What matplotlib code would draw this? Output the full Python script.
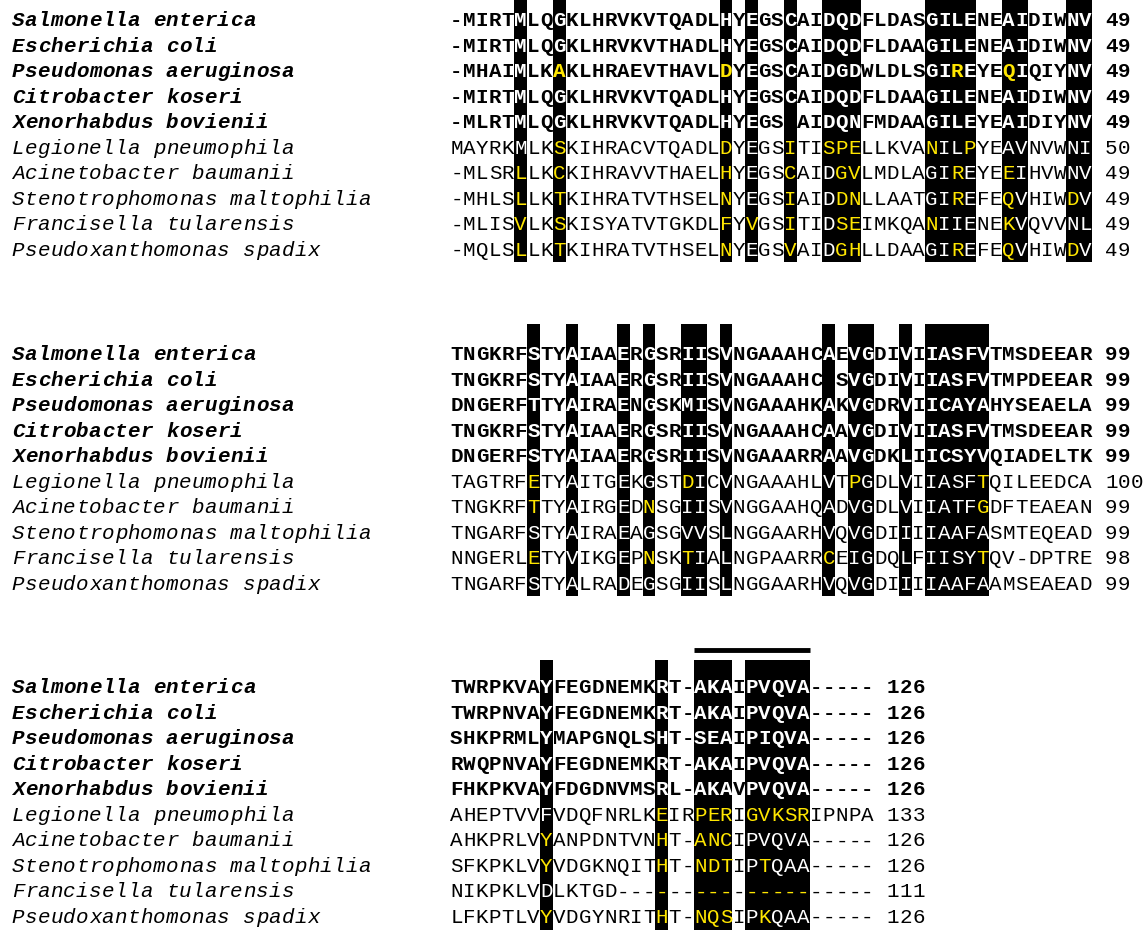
import matplotlib
matplotlib.use("Agg")
import matplotlib.pyplot as plt
from matplotlib.patches import Rectangle

# ---------------------------------------------------------------------------
# data
SPECIES = [
    "Salmonella enterica", "Escherichia coli", "Pseudomonas aeruginosa",
    "Citrobacter koseri", "Xenorhabdus bovienii", "Legionella pneumophila",
    "Acinetobacter baumanii", "Stenotrophomonas maltophilia",
    "Francisella tularensis", "Pseudoxanthomonas spadix",
]
N_BOLD = 5  # first rows are set in bold

SEQ_1 = [
    "-MIRTMLQGKLHRVKVTQADLHYEGSCAIDQDFLDASGILENEAIDIWNV",
    "-MIRTMLQGKLHRVKVTHADLHYEGSCAIDQDFLDAAGILENEAIDIWNV",
    "-MHAIMLKAKLHRAEVTHAVLDYEGSCAIDGDWLDLSGIREYEQIQIYNV",
    "-MIRTMLQGKLHRVKVTQADLHYEGSCAIDQDFLDAAGILENEAIDIWNV",
    "-MLRTMLQGKLHRVKVTQADLHYEGS AIDQNFMDAAGILEYEAIDIYNV",
    "MAYRKMLKSKIHRACVTQADLDYEGSITISPELLKVANILPYEAVNVWNI",
    "-MLSRLLKCKIHRAVVTHAELHYEGSCAIDGVLMDLAGIREYEEIHVWNV",
    "-MHLSLLKTKIHRATVTHSELNYEGSIAIDDNLLAATGIREFEQVHIWDV",
    "-MLISVLKSKISYATVTGKDLFYVGSITIDSEIMKQANIIENEKVQVVNL",
    "-MQLSLLKTKIHRATVTHSELNYEGSVAIDGHLLDAAGIREFEQVHIWDV",
]
END_1 = [49, 49, 49, 49, 49, 50, 49, 49, 49, 49]
SHADE_1 = [6, 9, 22, 24, 27, 30, 31, 32, 38, 39, 40, 41, 44, 45, 49, 50]
YELLOW_1 = [
    [], [], [9, 22, 40, 44], [], [],
    [9, 22, 27, 30, 31, 32, 38, 41],
    [6, 9, 22, 27, 31, 32, 40, 44],
    [6, 9, 22, 27, 31, 32, 40, 44, 49],
    [6, 9, 22, 24, 27, 31, 32, 38, 44],
    [6, 9, 22, 27, 31, 32, 40, 44, 49],
]

SEQ_2 = [
    "TNGKRFSTYAIAAERGSRIISVNGAAAHCAEVGDIVIIASFVTMSDEEAR",
    "TNGKRFSTYAIAAERGSRIISVNGAAAHC SVGDIVIIASFVTMPDEEAR",
    "DNGERFTTYAIRAENGSKMISVNGAAAHKAKVGDRVIICAYAHYSEAELA",
    "TNGKRFSTYAIAAERGSRIISVNGAAAHCAAVGDIVIIASFVTMSDEEAR",
    "DNGERFSTYAIAAERGSRIISVNGAAARRAAVGDKLIICSYVQIADELTK",
    "TAGTRFETYAITGEKGSTDICVNGAAAHLVTPGDLVIIASFTQILEEDCA",
    "TNGKRFTTYAIRGEDNSGIISVNGGAAHQADVGDLVIIATFGDFTEAEAN",
    "TNGARFSTYAIRAEAGSGVVSLNGGAARHVQVGDIIIIAAFASMTEQEAD",
    "NNGERLETYVIKGEPNSKTIALNGPAARRCEIGDQLFIISYTQV-DPTRE",
    "TNGARFSTYALRADEGSGIISLNGGAARHVQVGDIIIIAAFAAMSEAEAD",
]
END_2 = [99, 99, 99, 99, 99, 100, 99, 99, 98, 99]
SHADE_2 = [7, 10, 14, 16, 19, 20, 22, 30, 32, 33, 36, 38, 39, 40, 41, 42]
YELLOW_2 = [
    [], [], [], [], [],
    [7, 19, 32, 42],
    [7, 16, 42],
    [],
    [7, 16, 19, 30, 42],
    [],
]

SEQ_3 = [
    "TWRPKVAYFEGDNEMKRT-AKAIPVQVA-----",
    "TWRPNVAYFEGDNEMKRT-AKAIPVQVA-----",
    "SHKPRMLYMAPGNQLSHT-SEAIPIQVA-----",
    "RWQPNVAYFEGDNEMKRT-AKAIPVQVA-----",
    "FHKPKVAYFDGDNVMSRL-AKAVPVQVA-----",
    "AHEPTVVFVDQFNRLKEIRPERIGVKSRIPNPA",
    "AHKPRLVYANPDNTVNHT-ANCIPVQVA-----",
    "SFKPKLVYVDGKNQITHT-NDTIPTQAA-----",
    "NIKPKLVDLKTGD--------------------",
    "LFKPTLVYVDGYNRITHT-NQSIPKQAA-----",
]
END_3 = [126, 126, 126, 126, 126, 133, 126, 126, 111, 126]
SHADE_3 = [8, 17, 20, 21, 22, 24, 25, 26, 27, 28]
YELLOW_3 = [
    [], [], [], [], [],
    [17, 20, 21, 22, 24, 25, 26, 27, 28],
    [8, 17, 20, 21, 22],
    [8, 17, 20, 21, 22, 25],
    [17, 20, 21, 22, 24, 25, 26, 27, 28],
    [8, 17, 20, 21, 22, 25],
]
OVERLINE_3 = (20, 28)

# ---------------------------------------------------------------------------
# layout (pixels)
W, H = 1147, 930
NAME_X0 = 11.7      # left edge of the species names
SEQ_X0 = 450.0      # left edge of alignment column 1
CW = 12.84          # character pitch
ROW_H = 25.5
CAP = 12.5          # cap height, used to sit the baseline under the row centre
FONT = "Liberation Mono"
FS = 15
YELLOW = "#ffe600"


def col_left(c):
    return SEQ_X0 + (c - 1) * CW


def runs(cols):
    out = []
    for c in sorted(cols):
        if out and c == out[-1][1] + 1:
            out[-1][1] = c
        else:
            out.append([c, c])
    return out


def put_chars(ax, x0, y, text, color="black", bold=False, italic=False,
              colors=None):
    for i, ch in enumerate(text):
        if ch == " ":
            continue
        ax.text(x0 + (i + 0.5) * CW, y + CAP / 2, ch,
                color=colors[i] if colors else color,
                ha="center", va="baseline", family=FONT, fontsize=FS,
                fontweight="bold" if bold else "normal",
                fontstyle="italic" if italic else "normal")


def draw_block(ax, y0, bar_top, seqs, ends, shade, yellow, bar_bottom=None,
               overline=None):
    ys = [y0 + r * ROW_H for r in range(len(seqs))]
    if bar_bottom is None:
        bar_bottom = ys[-1] + ROW_H / 2
    for a, b in runs(shade):
        ax.add_patch(Rectangle((col_left(a), bar_top), (b - a + 1) * CW,
                               bar_bottom - bar_top, fc="black", ec="none",
                               lw=0))
    if overline:
        a, b = overline
        ax.plot([col_left(a), col_left(b + 1)], [bar_top - 10] * 2,
                color="black", lw=3.5, solid_capstyle="butt")
    shade = set(shade)
    for r, (name, seq, end, yel) in enumerate(zip(SPECIES, seqs, ends, yellow)):
        bold = r < N_BOLD
        put_chars(ax, NAME_X0, ys[r], name, bold=bold, italic=True)
        colors = []
        for c in range(1, len(seq) + 1):
            if c in yel:
                colors.append(YELLOW)
            elif c in shade:
                colors.append("white")
            else:
                colors.append("black")
        put_chars(ax, SEQ_X0, ys[r], seq, bold=bold, colors=colors)
        put_chars(ax, col_left(len(seq) + 2), ys[r], str(end), bold=bold)


fig = plt.figure(figsize=(W / 100, H / 100), dpi=100)
ax = fig.add_axes([0, 0, 1, 1])
ax.set_xlim(0, W)
ax.set_ylim(H, 0)
ax.axis("off")

draw_block(ax, 20, 0, SEQ_1, END_1, SHADE_1, YELLOW_1)
draw_block(ax, 354, 324, SEQ_2, END_2, SHADE_2, YELLOW_2)
draw_block(ax, 687, 660, SEQ_3, END_3, SHADE_3, YELLOW_3, bar_bottom=H,
           overline=OVERLINE_3)

fig.savefig("out.png", dpi=100, facecolor="white")
